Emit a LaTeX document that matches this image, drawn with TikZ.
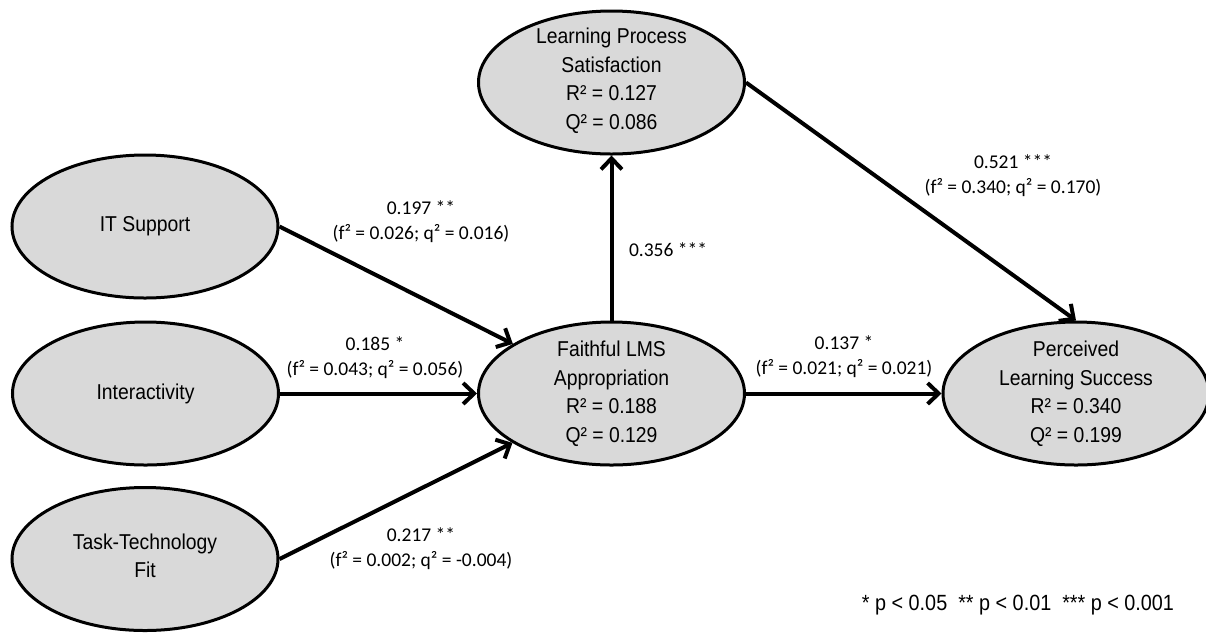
\documentclass[tikz,border=0pt]{standalone}
\usepackage{fontspec}
\newfontfamily\nodefont{Liberation Sans}[FakeStretch=0.9]
\newfontfamily\labfont{Carlito}
\usetikzlibrary{shapes.geometric,arrows.meta}
\begin{document}
\begin{tikzpicture}[x=1pt,y=-1pt,
  lv/.style={ellipse,draw=black,line width=3pt,fill=black!15,minimum width=266pt,minimum height=143pt,inner sep=0pt},
  lvtext/.style={align=center,font=\nodefont\fontsize{21.5}{28.5}\selectfont,inner sep=0pt},
  conn/.style={line width=4pt,-{Straight Barb[length=11pt,width=21pt]}},
  elab/.style={align=center,font=\labfont\fontsize{19.5}{25}\selectfont,inner sep=0pt}]
\useasboundingbox (0,0) rectangle (1206,633);
% latent variables
\node[lv] (IT)  at (145,226.5) {};
\node[lv] (IA)  at (145.5,393.5) {};
\node[lv] (TTF) at (145,559) {};
\node[lv] (F)   at (611.5,393.5) {};
\node[lv] (LPS) at (611.5,82.5) {};
\node[lv] (PLS) at (1076,393.5) {};
% texts
\node[lvtext] (ITt)  at (IT)  {IT Support};
\node[lvtext] (IAt)  at (IA)  {Interactivity};
\node[lvtext] (TTFt) at ([yshift=3pt]TTF.center) {Task-Technology\\Fit};
\node[lvtext] (Ft)   at (F)   {Faithful LMS\\Appropriation\\R² = 0.188\\Q² = 0.129};
\node[lvtext] (LPSt) at ([yshift=2pt]LPS.center) {Learning Process\\Satisfaction\\R² = 0.127\\Q² = 0.086};
\node[lvtext] (PLSt) at (PLS) {Perceived\\Learning Success\\R² = 0.340\\Q² = 0.199};
% paths
\draw[conn] (IT.east) -- (F);
\draw[conn] (IA) -- (F);
\draw[conn] (TTF.east) -- (F);
\draw[conn] (F) -- (LPS);
\draw[conn] (F) -- (PLS);
\draw[conn] (LPS.east) -- (PLS.north);
% path labels
\node[elab] (l1) at (421,222) {0.197 **\\(f² = 0.026; q² = 0.016)};
\node[elab] (l2) at (375,358) {0.185 *\\(f² = 0.043; q² = 0.056)};
\node[elab] (l3) at (421,549) {0.217 **\\(f² = 0.002; q² = -0.004)};
\node[elab] (l4) at (668,250) {0.356 ***};
\node[elab] (l5) at (1013,176) {0.521 ***\\(f² = 0.340; q² = 0.170)};
\node[elab] (l6) at (844,357) {0.137 *\\(f² = 0.021; q² = 0.021)};
% legend
\node[lvtext,font=\nodefont\fontsize{22}{26}\selectfont] (leg) at (1018,605) {* p < 0.05\ \ ** p < 0.01\ \ *** p < 0.001};
\end{tikzpicture}
\end{document}
